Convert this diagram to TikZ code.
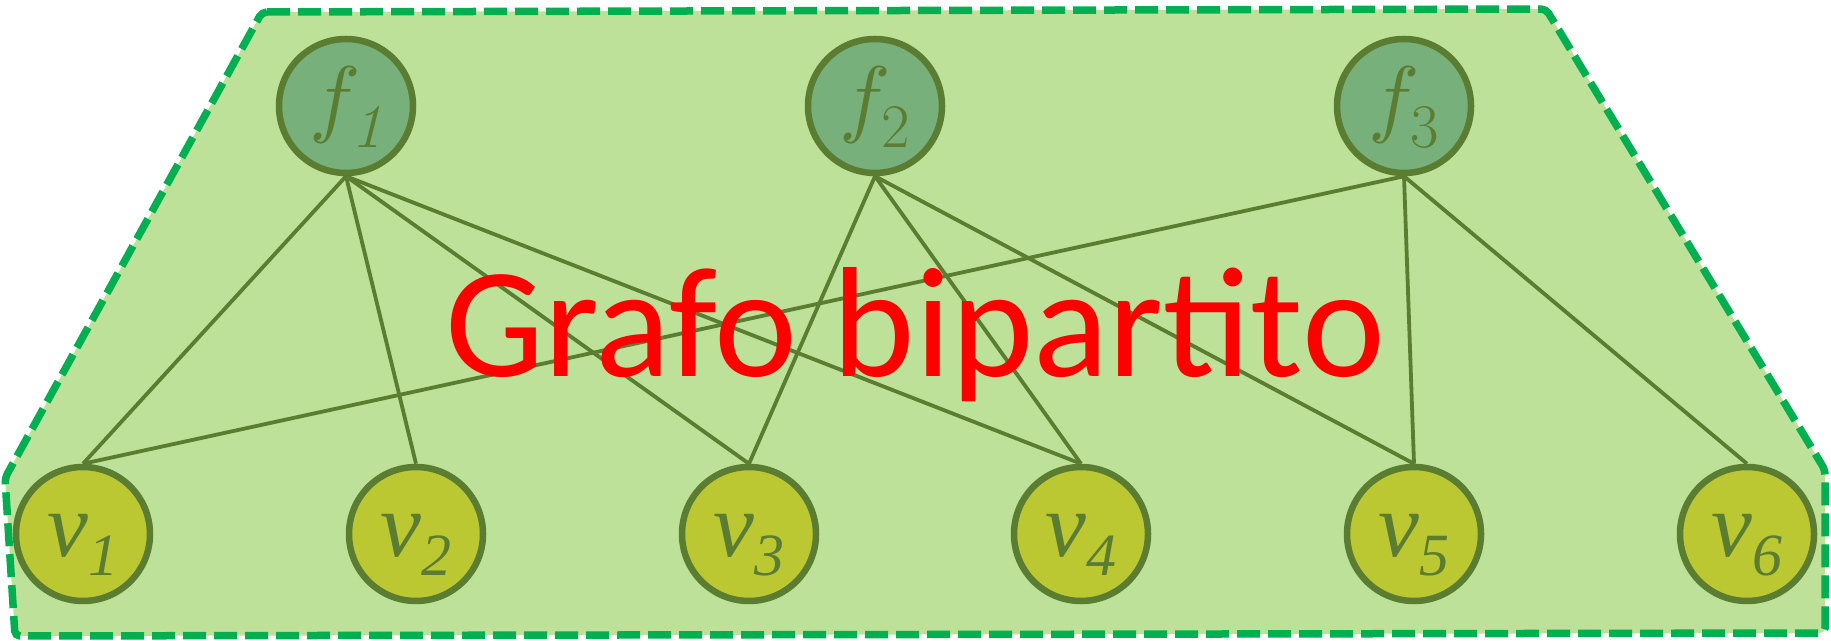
\documentclass[tikz,border=0pt]{standalone}
\usepackage{fontspec}
\usepackage{xcolor}
\usepackage{tikz}
\usetikzlibrary{positioning}
\newfontfamily\carlito{Carlito}
\newfontfamily\libserif{Liberation Serif}
\newfontfamily\lmmath{latinmodern-math.otf}
\definecolor{bgfill}{HTML}{BEE19A}
\definecolor{ffill}{HTML}{77B07B}
\definecolor{vfill}{HTML}{BCC832}
\definecolor{darkolive}{HTML}{5A7D32}
\definecolor{dashgreen}{HTML}{00B050}
\newcommand{\vlab}[1]{{\libserif\itshape\fontsize{92}{92}\selectfont v\raisebox{-19pt}{\fontsize{60}{60}\selectfont #1}}}
\newcommand{\flab}[1]{{\fontsize{86}{86}\selectfont{\lmmath\char"1D453}\raisebox{-21pt}{\fontsize{62}{62}\selectfont #1}}}

\begin{document}
\begin{tikzpicture}[x=1pt, y=1pt,
    fnode/.style={circle, draw=darkolive, line width=6.5pt, fill=ffill, minimum size=134pt, inner sep=0pt, text=darkolive, text height=42pt, text depth=0pt},
    vnode/.style={circle, draw=darkolive, line width=6.5pt, fill=vfill, minimum size=134pt, inner sep=0pt, text=darkolive, text height=46pt, text depth=0pt},
    edge/.style={draw=darkolive, line width=3.8pt}]
    \useasboundingbox (0,0) rectangle (1831,640);
    \draw[fill=bgfill, draw=dashgreen, line width=7.5pt, dash pattern=on 23pt off 8pt, rounded corners=5pt]
      (262,628) -- (1546,631) -- (1825,170) -- (1825,7) -- (15,4) -- (5,162) -- cycle;
    \node[fnode] (f1) at (346,534) {\flab{\textit{1}}};
    \node[fnode] (f2) at (875,534) {\flab{2}};
    \node[fnode] (f3) at (1404,534) {\flab{3}};
    \node[vnode] (v1) at (83,106) {\vlab{1}};
    \node[vnode] (v2) at (416,106) {\vlab{2}};
    \node[vnode] (v3) at (749,106) {\vlab{3}};
    \node[vnode] (v4) at (1081,106) {\vlab{4}};
    \node[vnode] (v5) at (1414,106) {\vlab{5}};
    \node[vnode] (v6) at (1747,106) {\vlab{6}};
    \draw[edge] (f1.south)--(v1.north); \draw[edge] (f1.south)--(v2.north);
    \draw[edge] (f1.south)--(v3.north); \draw[edge] (f1.south)--(v4.north);
    \draw[edge] (f2.south)--(v3.north); \draw[edge] (f2.south)--(v4.north);
    \draw[edge] (f2.south)--(v5.north);
    \draw[edge] (f3.south)--(v1.north); \draw[edge] (f3.south)--(v5.north);
    \draw[edge] (f3.south)--(v6.north);
    \node[anchor=base, text=red, font=\carlito\fontsize{157}{157}\selectfont, inner sep=0pt] (title) at (915,263) {Grafo bipartito};
  \end{tikzpicture}
\end{document}
